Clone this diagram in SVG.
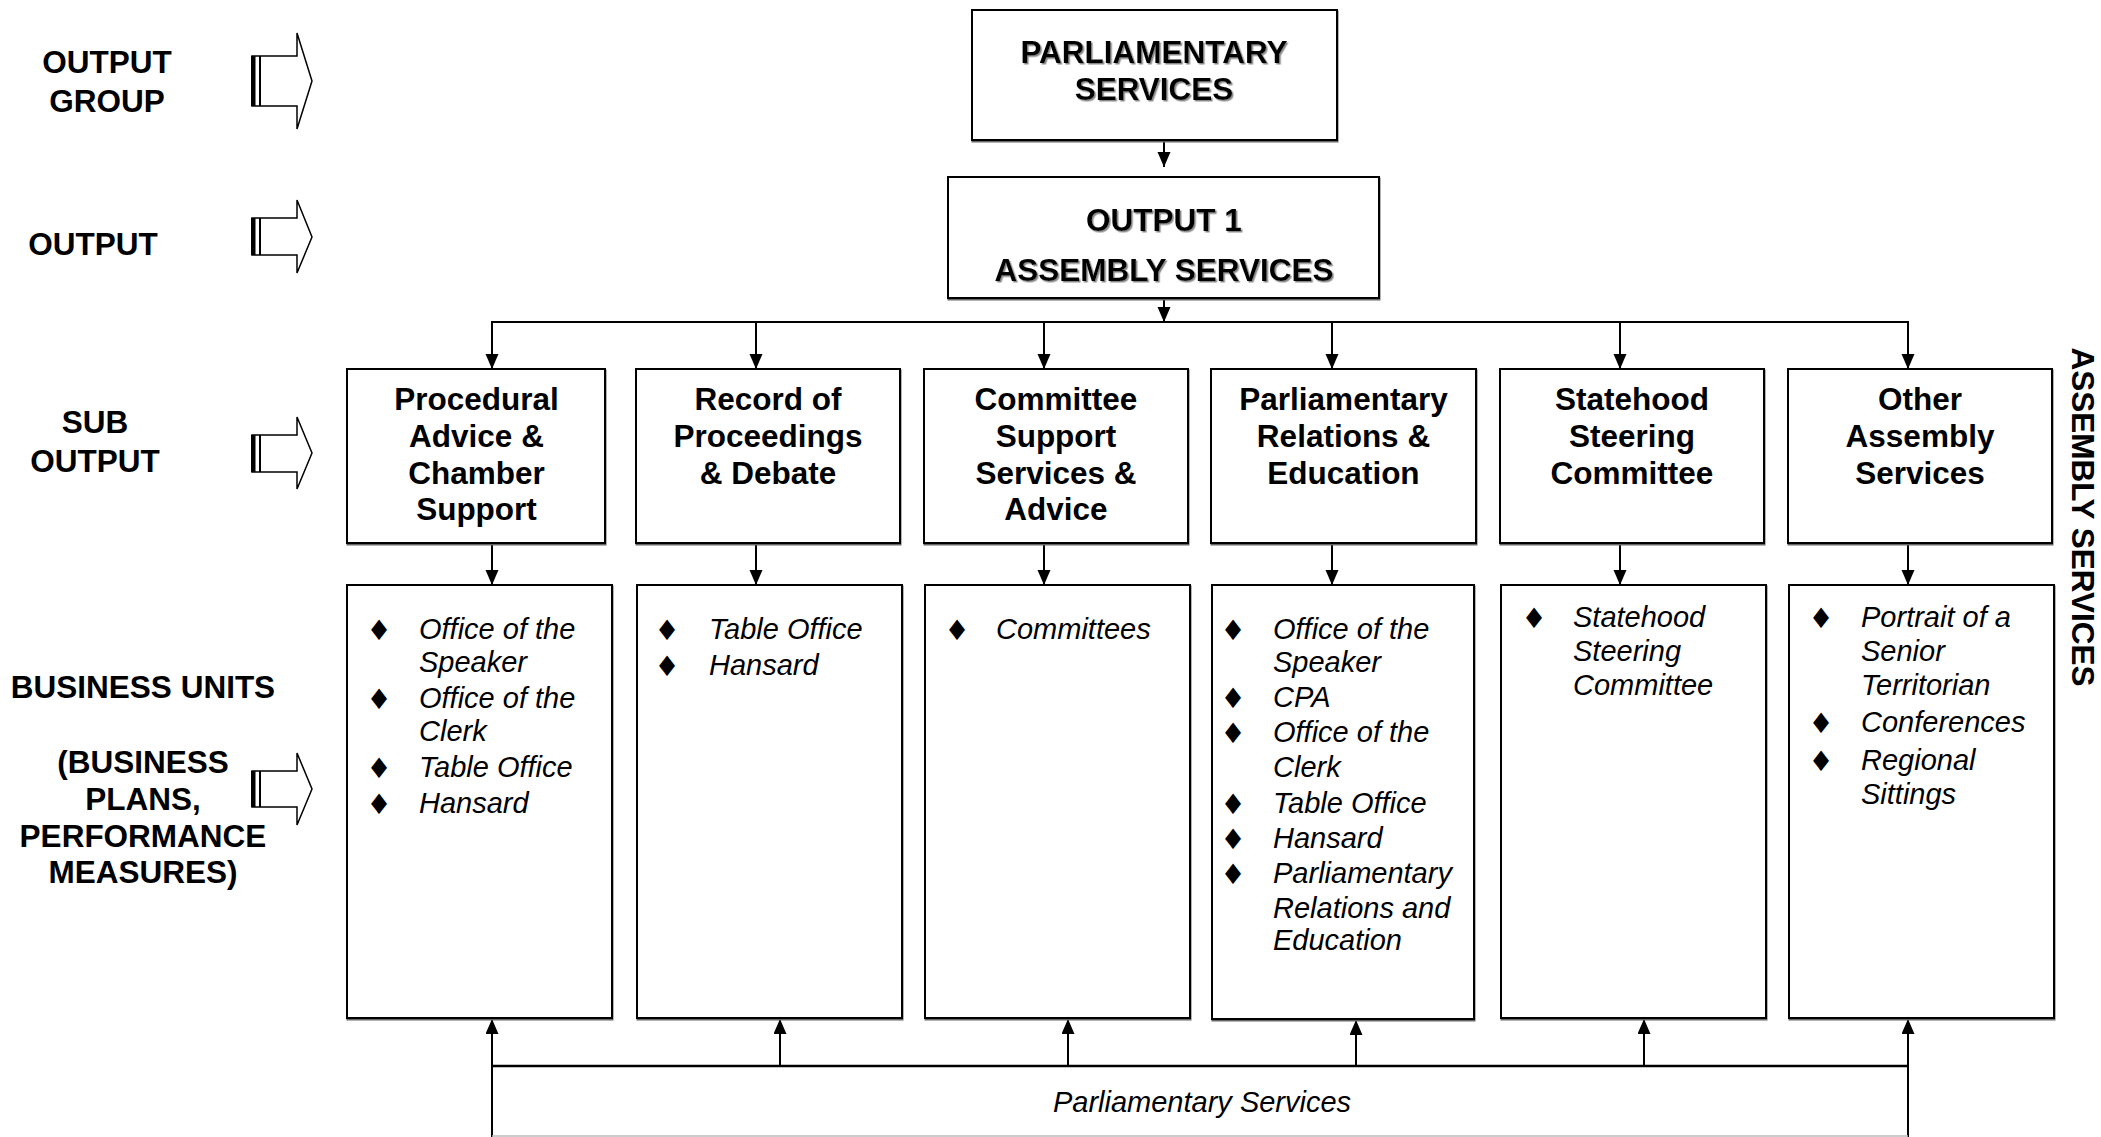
<svg xmlns="http://www.w3.org/2000/svg" width="2101" height="1137" viewBox="0 0 2101 1137">
<defs>
<style>
.b{font-family:"Liberation Sans",Arial,sans-serif;font-weight:bold;font-size:31.5px;fill:#000}
.c{text-anchor:middle}
.i{font-family:"Liberation Sans",Arial,sans-serif;font-style:italic;font-size:29px;fill:#000}
.d{font-family:"DejaVu Sans",sans-serif;font-size:28px;text-anchor:middle;fill:#000}
.box{fill:#fff;stroke:#000;stroke-width:2}
.ln{fill:none;stroke:#000;stroke-width:2}
.blk{fill:#fff;stroke:#000;stroke-width:1.5}
.bar{fill:#000}
.sh{filter:url(#tsh)}
</style>
<marker id="ah" markerUnits="userSpaceOnUse" markerWidth="16" markerHeight="14" refX="15" refY="6.5" orient="auto" viewBox="0 0 16 14"><path d="M0,0 L15,6.5 L0,13 z" fill="#000"/></marker>
<filter id="tsh" x="-5%" y="-20%" width="110%" height="140%"><feDropShadow dx="1.5" dy="1.5" stdDeviation="0.4" flood-color="#888"/></filter>
<filter id="bsh" x="-2%" y="-2%" width="104%" height="104%"><feDropShadow dx="0.5" dy="1.5" stdDeviation="0.3" flood-color="#666"/></filter>
</defs>
<rect width="2101" height="1137" fill="#fff"/>

<g id="left-labels">
<text class="b c" x="107" y="73">OUTPUT</text>
<text class="b c" x="107" y="112">GROUP</text>
<text class="b c" x="93" y="255">OUTPUT</text>
<text class="b c" x="95" y="433">SUB</text>
<text class="b c" x="95" y="472">OUTPUT</text>
<text class="b c" x="143" y="698">BUSINESS UNITS</text>
<text class="b c" x="143" y="773">(BUSINESS</text>
<text class="b c" x="143" y="810">PLANS,</text>
<text class="b c" x="143" y="847">PERFORMANCE</text>
<text class="b c" x="143" y="883">MEASURES)</text>
</g>

<g id="level-arrows">
<g id="arrow-group">
<polygon class="blk" points="252,56 297,56 297,33 312,81 297,129 297,106 252,106"/>
<rect class="bar" x="251" y="56" width="4.5" height="50"/>
<line x1="260" y1="56" x2="260" y2="106" stroke="#000" stroke-width="2"/>
</g>
<g id="arrow-output">
<polygon class="blk" points="252,218 297,218 297,200 312,237 297,273 297,255 252,255"/>
<rect class="bar" x="251" y="218" width="4.5" height="37"/>
<line x1="260" y1="218" x2="260" y2="255" stroke="#000" stroke-width="2"/>
</g>
<g id="arrow-sub">
<polygon class="blk" points="252,435 297,435 297,417 312,453 297,489 297,472 252,472"/>
<rect class="bar" x="251" y="435" width="4.5" height="37"/>
<line x1="260" y1="435" x2="260" y2="472" stroke="#000" stroke-width="2"/>
</g>
<g id="arrow-business">
<polygon class="blk" points="252,771 297,771 297,753 312,789 297,825 297,807 252,807"/>
<rect class="bar" x="251" y="771" width="4.5" height="36"/>
<line x1="260" y1="771" x2="260" y2="807" stroke="#000" stroke-width="2"/>
</g>
</g>

<g id="connectors">
<line class="ln" x1="1164" y1="141" x2="1164" y2="167" marker-end="url(#ah)"/>
<line class="ln" x1="1164" y1="298" x2="1164" y2="322" marker-end="url(#ah)"/>
<line class="ln" x1="491" y1="322" x2="1909" y2="322"/>
<line class="ln" x1="492" y1="322" x2="492" y2="369" marker-end="url(#ah)"/>
<line class="ln" x1="756" y1="322" x2="756" y2="369" marker-end="url(#ah)"/>
<line class="ln" x1="1044" y1="322" x2="1044" y2="369" marker-end="url(#ah)"/>
<line class="ln" x1="1332" y1="322" x2="1332" y2="369" marker-end="url(#ah)"/>
<line class="ln" x1="1620" y1="322" x2="1620" y2="369" marker-end="url(#ah)"/>
<line class="ln" x1="1908" y1="322" x2="1908" y2="369" marker-end="url(#ah)"/>
<line class="ln" x1="492" y1="544" x2="492" y2="585" marker-end="url(#ah)"/>
<line class="ln" x1="756" y1="544" x2="756" y2="585" marker-end="url(#ah)"/>
<line class="ln" x1="1044" y1="544" x2="1044" y2="585" marker-end="url(#ah)"/>
<line class="ln" x1="1332" y1="544" x2="1332" y2="585" marker-end="url(#ah)"/>
<line class="ln" x1="1620" y1="537" x2="1620" y2="585" marker-end="url(#ah)"/>
<line class="ln" x1="1908" y1="544" x2="1908" y2="585" marker-end="url(#ah)"/>
<line class="ln" x1="492" y1="1066" x2="492" y2="1019" marker-end="url(#ah)"/>
<line class="ln" x1="780" y1="1066" x2="780" y2="1019" marker-end="url(#ah)"/>
<line class="ln" x1="1068" y1="1066" x2="1068" y2="1019" marker-end="url(#ah)"/>
<line class="ln" x1="1356" y1="1066" x2="1356" y2="1020" marker-end="url(#ah)"/>
<line class="ln" x1="1644" y1="1066" x2="1644" y2="1019" marker-end="url(#ah)"/>
<line class="ln" x1="1908" y1="1066" x2="1908" y2="1019" marker-end="url(#ah)"/>
</g>

<g id="parliamentary-services">
<rect class="box" x="972" y="10" width="365" height="130" filter="url(#bsh)"/>
<text class="b c sh" x="1154" y="63">PARLIAMENTARY</text>
<text class="b c sh" x="1154" y="100">SERVICES</text>
</g>

<g id="output-1">
<rect class="box" x="948" y="177" width="431" height="121" filter="url(#bsh)"/>
<text class="b c sh" x="1164" y="231">OUTPUT 1</text>
<text class="b c sh" x="1164" y="281">ASSEMBLY SERVICES</text>
</g>

<g id="sub-procedural">
<rect class="box" x="347" y="369" width="258" height="174" filter="url(#bsh)"/>
<text class="b c" x="476.5" y="410">Procedural</text>
<text class="b c" x="476.5" y="447">Advice &amp;</text>
<text class="b c" x="476.5" y="484">Chamber</text>
<text class="b c" x="476.5" y="520">Support</text>
</g>
<g id="sub-record">
<rect class="box" x="636" y="369" width="264" height="174" filter="url(#bsh)"/>
<text class="b c" x="768" y="410">Record of</text>
<text class="b c" x="768" y="447">Proceedings</text>
<text class="b c" x="768" y="484">&amp; Debate</text>
</g>
<g id="sub-committee">
<rect class="box" x="924" y="369" width="264" height="174" filter="url(#bsh)"/>
<text class="b c" x="1056" y="410">Committee</text>
<text class="b c" x="1056" y="447">Support</text>
<text class="b c" x="1056" y="484">Services &amp;</text>
<text class="b c" x="1056" y="520">Advice</text>
</g>
<g id="sub-relations">
<rect class="box" x="1211" y="369" width="265" height="174" filter="url(#bsh)"/>
<text class="b c" x="1343.5" y="410">Parliamentary</text>
<text class="b c" x="1343.5" y="447">Relations &amp;</text>
<text class="b c" x="1343.5" y="484">Education</text>
</g>
<g id="sub-statehood">
<rect class="box" x="1500" y="369" width="264" height="174" filter="url(#bsh)"/>
<text class="b c" x="1632" y="410">Statehood</text>
<text class="b c" x="1632" y="447">Steering</text>
<text class="b c" x="1632" y="484">Committee</text>
</g>
<g id="sub-other">
<rect class="box" x="1788" y="369" width="264" height="174" filter="url(#bsh)"/>
<text class="b c" x="1920" y="410">Other</text>
<text class="b c" x="1920" y="447">Assembly</text>
<text class="b c" x="1920" y="484">Services</text>
</g>

<g id="bu-procedural">
<rect class="box" x="347" y="585" width="265" height="433" filter="url(#bsh)"/>
<text class="d" x="379" y="640">♦</text><text class="i" x="419" y="639">Office of the</text>
<text class="i" x="419" y="672">Speaker</text>
<text class="d" x="379" y="709">♦</text><text class="i" x="419" y="708">Office of the</text>
<text class="i" x="419" y="741">Clerk</text>
<text class="d" x="379" y="778">♦</text><text class="i" x="419" y="777">Table Office</text>
<text class="d" x="379" y="814">♦</text><text class="i" x="419" y="813">Hansard</text>
</g>
<g id="bu-record">
<rect class="box" x="637" y="585" width="265" height="433" filter="url(#bsh)"/>
<text class="d" x="667" y="640">♦</text><text class="i" x="709" y="639">Table Office</text>
<text class="d" x="667" y="676">♦</text><text class="i" x="709" y="675">Hansard</text>
</g>
<g id="bu-committee">
<rect class="box" x="925" y="585" width="265" height="433" filter="url(#bsh)"/>
<text class="d" x="957" y="640">♦</text><text class="i" x="996" y="639">Committees</text>
</g>
<g id="bu-relations">
<rect class="box" x="1212" y="585" width="262" height="434" filter="url(#bsh)"/>
<text class="d" x="1233" y="640">♦</text><text class="i" x="1273" y="639">Office of the</text>
<text class="i" x="1273" y="672">Speaker</text>
<text class="d" x="1233" y="708">♦</text><text class="i" x="1273" y="707">CPA</text>
<text class="d" x="1233" y="743">♦</text><text class="i" x="1273" y="742">Office of the</text>
<text class="i" x="1273" y="777">Clerk</text>
<text class="d" x="1233" y="814">♦</text><text class="i" x="1273" y="813">Table Office</text>
<text class="d" x="1233" y="849">♦</text><text class="i" x="1273" y="848">Hansard</text>
<text class="d" x="1233" y="884">♦</text><text class="i" x="1273" y="883">Parliamentary</text>
<text class="i" x="1273" y="918">Relations and</text>
<text class="i" x="1273" y="950">Education</text>
</g>
<g id="bu-statehood">
<rect class="box" x="1501" y="585" width="265" height="433" filter="url(#bsh)"/>
<text class="d" x="1534" y="628">♦</text><text class="i" x="1573" y="627">Statehood</text>
<text class="i" x="1573" y="661">Steering</text>
<text class="i" x="1573" y="695">Committee</text>
</g>
<g id="bu-other">
<rect class="box" x="1789" y="585" width="265" height="433" filter="url(#bsh)"/>
<text class="d" x="1821" y="628">♦</text><text class="i" x="1861" y="627">Portrait of a</text>
<text class="i" x="1861" y="661">Senior</text>
<text class="i" x="1861" y="695">Territorian</text>
<text class="d" x="1821" y="733">♦</text><text class="i" x="1861" y="732">Conferences</text>
<text class="d" x="1821" y="771">♦</text><text class="i" x="1861" y="770">Regional</text>
<text class="i" x="1861" y="804">Sittings</text>
</g>

<g id="parliamentary-services-base">
<line x1="491" y1="1066" x2="1909" y2="1066" stroke="#000" stroke-width="2.5"/>
<line class="ln" x1="492" y1="1066" x2="492" y2="1137"/>
<line class="ln" x1="1908" y1="1066" x2="1908" y2="1137"/>
<line x1="492" y1="1136" x2="1908" y2="1136" stroke="#bbb" stroke-width="1.5"/>
<text class="i c" x="1202" y="1112">Parliamentary Services</text>
</g>

<g id="side-label">
<text class="b c" transform="translate(2072,517) rotate(90)">ASSEMBLY SERVICES</text>
</g>
</svg>
